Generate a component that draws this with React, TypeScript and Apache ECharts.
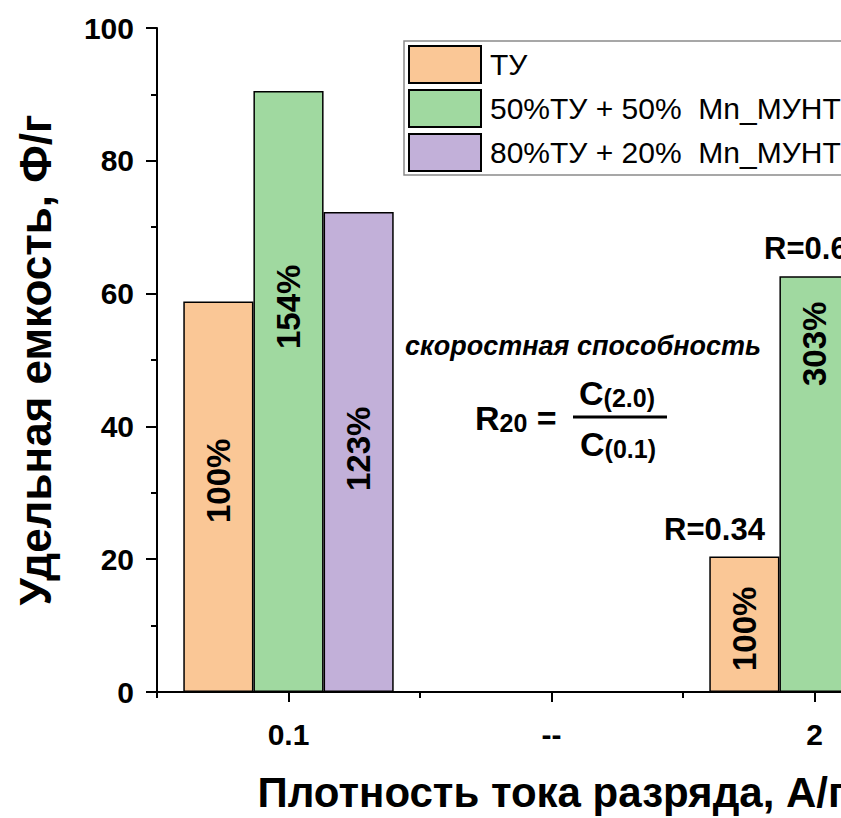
import { useEffect, useRef } from 'react';
import * as echarts from 'echarts';

const FONT = '"Liberation Sans", Arial, Helvetica, sans-serif';

// Discharge current density categories (A/g)
const categories = ['0.1', '--', '2'];

// Specific capacitance, F/g
const tuValues = [58.8, null, 20.4];
const mix50Values = [90.5, null, 62.6];
const mix20Values = [72.3, null, 45.0];

const seriesNames = ['ТУ', '50%ТУ + 50%  Mn_МУНТ', '80%ТУ + 20%  Mn_МУНТ'];

// Retention labels written inside the bars
const tuPercent = ['100%', '', '100%'];
const mix50Percent = ['154%', '', '303%'];
const mix20Percent = ['123%', '', ''];

// Rate-capability notes above the 2 A/g bars
const rateNotes = [
  { category: '2', series: 0, text: 'R=0.34' },
  { category: '2', series: 1, text: 'R=0.69' },
];

// Layout: how far above the bar base each rotated label starts (px)
const labelLift = [
  [169, 0, 21],
  [343, 0, 306],
  [201, 0, 0],
];
// Layout: horizontal shift of the R notes from the category centre (px)
const noteShift = [-100, 0];

const colors = ['#FAC796', '#A0D9A0', '#C2B0D9'];

const allValues = [tuValues, mix50Values, mix20Values];
const allPercents = [tuPercent, mix50Percent, mix20Percent];

function buildOption() {
  const barSeries = seriesNames.map((name, s) => ({
    name,
    type: 'bar',
    xAxisIndex: 0,
    barGap: '0%',
    barCategoryGap: '20%',
    itemStyle: { color: colors[s], borderColor: '#000', borderWidth: 1.5 },
    label: {
      show: true,
      position: 'insideBottom',
      rotate: 90,
      align: 'left',
      verticalAlign: 'middle',
      fontSize: 33,
      fontWeight: 'bold',
      fontFamily: FONT,
      color: '#000',
    },
    data: allValues[s].map((v, i) =>
      v == null
        ? '-'
        : {
            value: v,
            label: {
              show: allPercents[s][i] !== '',
              formatter: allPercents[s][i],
              distance: labelLift[s][i],
            },
          }
    ),
  }));

  // R notes: text placed above the bar tops through the axes' own scales
  const noteSeries = {
    name: 'R',
    type: 'custom',
    xAxisIndex: 0,
    z: 10,
    silent: true,
    data: rateNotes.map((n, k) => [
      categories.indexOf(n.category),
      allValues[n.series][categories.indexOf(n.category)],
      k,
    ]),
    renderItem: (_params: any, api: any) => {
      const k = api.value(2);
      const p = api.coord([api.value(0), api.value(1)]);
      return {
        type: 'text',
        x: p[0] + noteShift[k],
        y: p[1] - 12,
        style: {
          text: rateNotes[k].text,
          fill: '#000',
          fontSize: 31,
          fontWeight: 'bold',
          fontFamily: FONT,
          align: 'center',
          verticalAlign: 'bottom',
        },
      };
    },
  };

  const axisLineStyle = { color: '#000', width: 2 };
  const rich = {
    big: { fontSize: 34, fontWeight: 'bold', fontFamily: FONT, verticalAlign: 'bottom', color: '#000' },
    sub: { fontSize: 25, fontWeight: 'bold', fontFamily: FONT, verticalAlign: 'bottom', color: '#000' },
  };

  return {
    animation: false,
    backgroundColor: '#fff',
    textStyle: { fontFamily: FONT },
    grid: { left: 157, top: 28, width: 789, height: 665, containLabel: false },
    legend: {
      data: seriesNames,
      orient: 'vertical',
      left: 404,
      top: 41,
      padding: [4, 10, 3, 4],
      itemWidth: 72,
      itemHeight: 37,
      itemGap: 5,
      icon: 'rect',
      backgroundColor: '#fff',
      borderColor: '#8a8a8a',
      borderWidth: 1.5,
      textStyle: { fontSize: 30, color: '#000', fontFamily: FONT, padding: [0, 0, 0, 4] },
    },
    xAxis: [
      {
        type: 'category',
        data: categories,
        position: 'bottom',
        axisLine: { show: true, lineStyle: axisLineStyle },
        axisTick: { show: true, alignWithLabel: true, inside: false, length: 10, lineStyle: axisLineStyle },
        axisLabel: { fontSize: 30, fontWeight: 'bold', color: '#000', margin: 27, fontFamily: FONT },
        splitLine: { show: false },
        name: 'Плотность тока разряда, А/г',
        nameLocation: 'middle',
        nameGap: 79,
        nameTextStyle: { fontSize: 42, fontWeight: 'bold', color: '#000', fontFamily: FONT },
      },
      {
        type: 'category',
        data: categories,
        position: 'bottom',
        axisLine: { show: false },
        axisTick: { show: true, inside: false, length: 6, lineStyle: axisLineStyle },
        axisLabel: { show: false },
        splitLine: { show: false },
      },
    ],
    yAxis: {
      type: 'value',
      min: 0,
      max: 100,
      interval: 20,
      axisLine: { show: true, lineStyle: axisLineStyle },
      axisTick: { show: true, inside: false, length: 11, lineStyle: axisLineStyle },
      minorTick: { show: true, splitNumber: 2, length: 6, lineStyle: axisLineStyle },
      splitLine: { show: false },
      axisLabel: { fontSize: 30, fontWeight: 'bold', color: '#000', margin: 23, fontFamily: FONT },
      name: 'Удельная емкость, Ф/г',
      nameLocation: 'middle',
      nameRotate: 90,
      nameGap: 100,
      nameTextStyle: { fontSize: 44, fontWeight: 'bold', color: '#000', fontFamily: FONT },
    },
    graphic: [
      {
        type: 'text',
        x: 405,
        y: 346,
        style: {
          text: 'скоростная способность',
          fontSize: 27,
          fontWeight: 'bold',
          fontStyle: 'italic',
          fontFamily: FONT,
          fill: '#000',
          align: 'left',
          verticalAlign: 'middle',
        },
      },
      {
        type: 'text',
        x: 475,
        y: 435,
        style: {
          text: '{big|R}{sub|20}{big| =}',
          fontFamily: FONT,
          fill: '#000',
          align: 'left',
          verticalAlign: 'bottom',
          rich,
        },
      },
      {
        type: 'text',
        x: 617,
        y: 410,
        style: {
          text: '{big|C}{sub|(2.0)}',
          fontFamily: FONT,
          fill: '#000',
          align: 'center',
          verticalAlign: 'bottom',
          rich,
        },
      },
      {
        type: 'line',
        shape: { x1: 573, y1: 417, x2: 667, y2: 417 },
        style: { stroke: '#000', lineWidth: 3 },
      },
      {
        type: 'text',
        x: 618,
        y: 461,
        style: {
          text: '{big|C}{sub|(0.1)}',
          fontFamily: FONT,
          fill: '#000',
          align: 'center',
          verticalAlign: 'bottom',
          rich,
        },
      },
    ],
    series: [...barSeries, noteSeries],
  };
}

export default function App() {
  const ref = useRef<HTMLDivElement>(null);

  useEffect(() => {
    if (!ref.current) return;
    const chart = echarts.init(ref.current, null, { renderer: 'svg' });
    chart.setOption(buildOption() as any);
    return () => chart.dispose();
  }, []);

  return (
    <div
      style={{
        position: 'absolute',
        left: 0,
        top: 0,
        width: 841,
        height: 818,
        overflow: 'hidden',
        background: '#fff',
      }}
    >
      <div ref={ref} style={{ width: 1100, height: 818 }} />
    </div>
  );
}
